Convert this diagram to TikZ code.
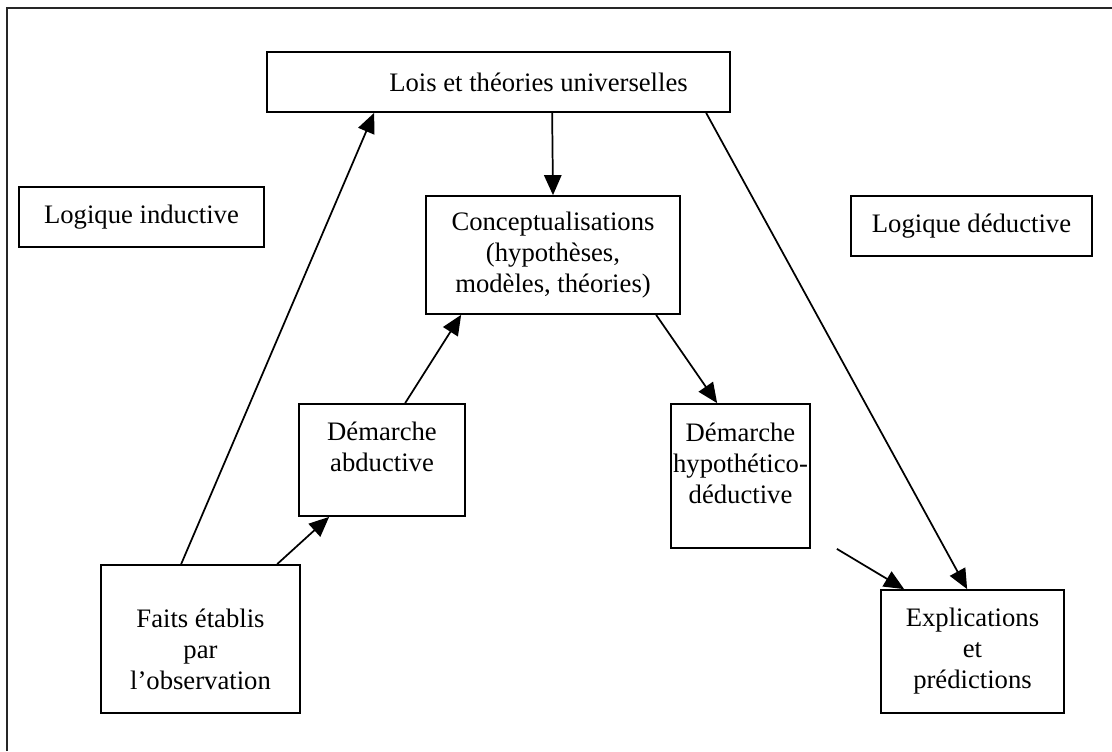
\documentclass[tikz,border=0pt]{standalone}
\usepackage{fontspec}
\setmainfont{Liberation Serif}
\usetikzlibrary{arrows.meta,calc}
\begin{document}
\begin{tikzpicture}[x=0.75pt,y=-0.75pt,
  txt/.style={align=center, inner sep=0pt, font=\fontsize{20}{23.25}\selectfont},
  box/.style={draw, line width=1.3pt, txt},
  arr/.style={line width=1.3pt, -{Triangle[length=15pt,width=13pt]}},
  frame/.style={line width=2.2pt, draw=black!85}]
\useasboundingbox (0,0) rectangle (1112,751);
\coordinate (fbl) at (7,751);
\coordinate (ftl) at (7,8);
\coordinate (ftr) at (1112,8);
\draw[frame] (fbl) -- (ftl) -- (ftr);

\node[box, minimum width=347.25pt, minimum height=45pt,
  label={[txt, xshift=30pt]center:Lois et théories universelles}] (lois) at (498.5,82) {};
\node[box, minimum width=183.75pt, minimum height=45pt] (ind) at (141.5,217) {Logique inductive};
\node[box, minimum width=180.75pt, minimum height=45pt] (ded) at (971.5,226) {Logique déductive};
\node[box, minimum width=190.5pt, minimum height=88.5pt] (conc) at (553,255) {Conceptualisations\\(hypothèses,\\modèles, théories)};
\node[box, minimum width=124.5pt, minimum height=84pt,
  label={[txt, yshift=9.75pt]center:Démarche\\abductive}] (abd) at (382,460) {};
\node[box, minimum width=104.25pt, minimum height=108pt,
  label={[txt, yshift=9.75pt]center:Démarche\\hypothético-\\déductive}] (hyp) at (740.5,476) {};
\node[box, minimum width=149.25pt, minimum height=111pt,
  label={[txt, yshift=-7.5pt]center:Faits établis\\par\\l’observation}] (faits) at (200.5,639) {};
\node[box, minimum width=137.25pt, minimum height=92.25pt] (expl) at (972.5,651.5) {Explications\\et\\prédictions};

\coordinate (hypout) at ($(hyp.south east)+(26,0)$);

\draw[arr] ($(faits.north west)+(81,0)$) -- ($(lois.south west)+(108,0)$);
\draw[arr] ($(faits.north west)+(177,0)$) -- ($(abd.south west)+(31,0)$);
\draw[arr] ($(abd.north west)+(107,0)$) -- ($(conc.south west)+(36,0)$);
\draw[arr] ($(lois.south west)+(286,0)$) -- (conc.north);
\draw[arr] ($(lois.south west)+(440,0)$) -- ($(expl.north west)+(87,0)$);
\draw[arr] ($(conc.south west)+(231,0)$) -- ($(hyp.north west)+(47,0)$);
\draw[arr] (hypout) -- ($(expl.north west)+(24,0)$);
\end{tikzpicture}
\end{document}
